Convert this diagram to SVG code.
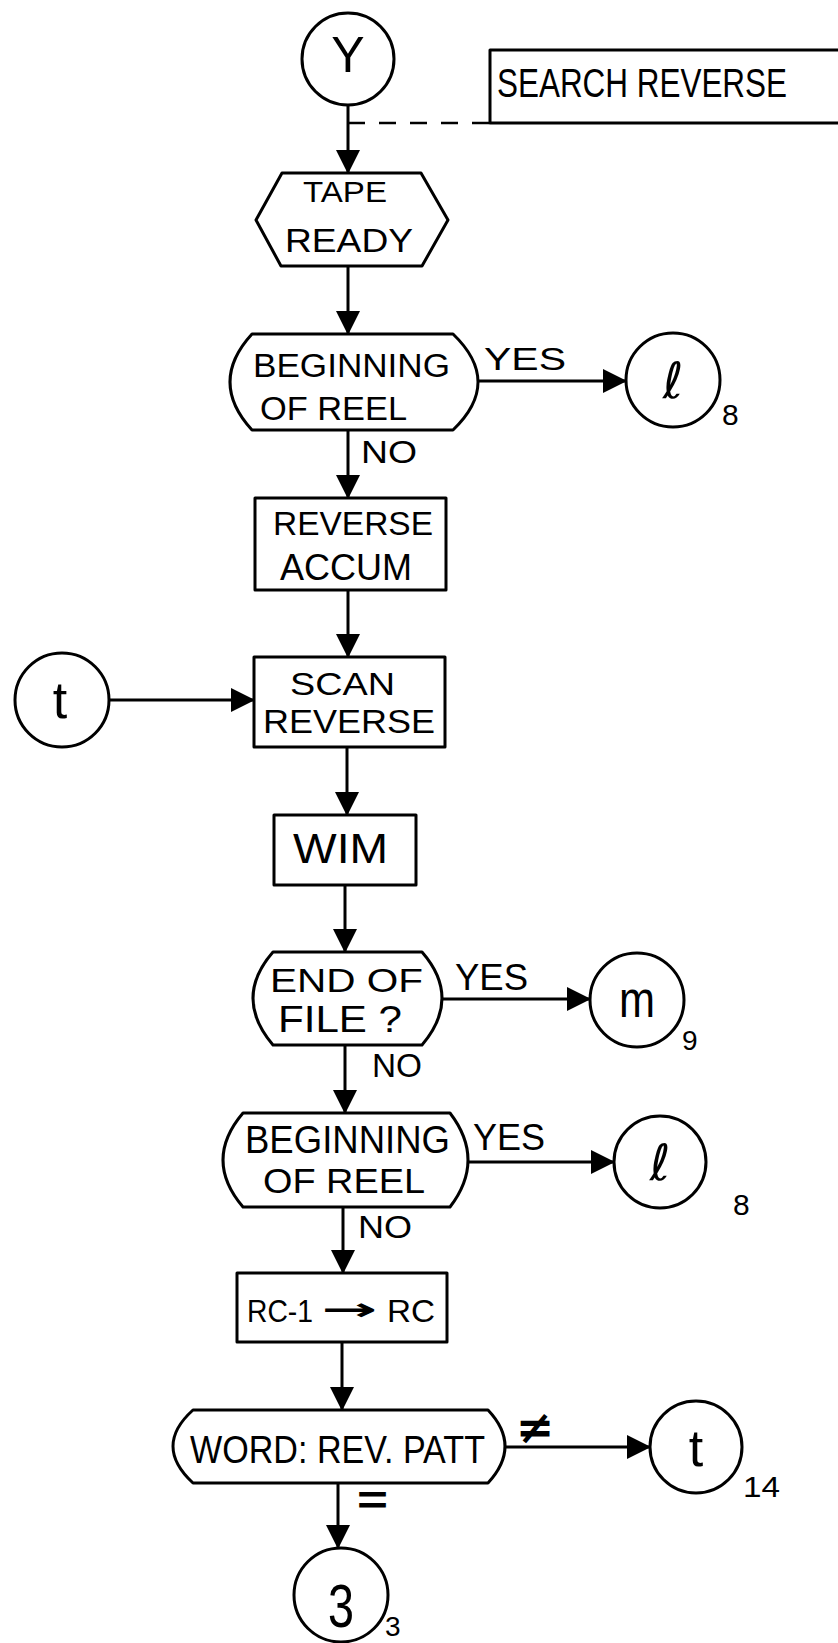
<svg xmlns="http://www.w3.org/2000/svg" width="838" height="1643" viewBox="0 0 838 1643">
<defs>
<style>
.s{fill:none;stroke:#000;stroke-width:3;stroke-linejoin:round}
.c{fill:none;stroke:#000;stroke-width:3}
.t{font-family:"Liberation Sans","DejaVu Sans",sans-serif;fill:#000}
.sym{font-family:"DejaVu Sans","Liberation Sans",sans-serif;fill:#000}
</style>
<marker id="ah" markerUnits="userSpaceOnUse" markerWidth="24" markerHeight="24" refX="23" refY="12" orient="auto">
<path d="M0,0 L24,12 L0,24 Z" fill="#000"/>
</marker>
</defs>
<rect width="838" height="1643" fill="#fff"/>

<g id="connectors">
<path class="c" d="M348,105 V173" marker-end="url(#ah)"/>
<path d="M348,123 H490" fill="none" stroke="#000" stroke-width="2.5" stroke-dasharray="17 14"/>
<path class="c" d="M348,266 V334" marker-end="url(#ah)"/>
<path class="c" d="M478,381 H626" marker-end="url(#ah)"/>
<path class="c" d="M348,430 V498" marker-end="url(#ah)"/>
<path class="c" d="M348,590 V657" marker-end="url(#ah)"/>
<path class="c" d="M108,700 H254" marker-end="url(#ah)"/>
<path class="c" d="M347,747 V815" marker-end="url(#ah)"/>
<path class="c" d="M345,885 V952" marker-end="url(#ah)"/>
<path class="c" d="M442,999 H590" marker-end="url(#ah)"/>
<path class="c" d="M345,1045 V1113" marker-end="url(#ah)"/>
<path class="c" d="M468,1162 H614" marker-end="url(#ah)"/>
<path class="c" d="M343,1207 V1273" marker-end="url(#ah)"/>
<path class="c" d="M342,1342 V1410" marker-end="url(#ah)"/>
<path class="c" d="M505,1447 H650" marker-end="url(#ah)"/>
<path class="c" d="M338,1483 V1548" marker-end="url(#ah)"/>
<text class="t" x="484" y="370" font-size="32" textLength="82" lengthAdjust="spacingAndGlyphs">YES</text>
<text class="t" x="361" y="463" font-size="32" textLength="56" lengthAdjust="spacingAndGlyphs">NO</text>
<text class="t" x="455" y="990" font-size="36" textLength="73" lengthAdjust="spacingAndGlyphs">YES</text>
<text class="t" x="372" y="1077" font-size="34" textLength="50" lengthAdjust="spacingAndGlyphs">NO</text>
<text class="t" x="473" y="1150" font-size="36" textLength="72" lengthAdjust="spacingAndGlyphs">YES</text>
<text class="t" x="358" y="1238" font-size="32" textLength="54" lengthAdjust="spacingAndGlyphs">NO</text>
<text class="sym" x="535" y="1443" font-size="46" text-anchor="middle" font-weight="bold">≠</text>
<text class="t" x="357" y="1514" font-size="40" textLength="31" lengthAdjust="spacingAndGlyphs" font-weight="bold">=</text>
</g>

<g id="start-y">
<circle class="s" cx="348" cy="59" r="46"/>
<text class="t" x="348" y="72" font-size="50" text-anchor="middle">Y</text>
</g>

<g id="title">
<path class="s" d="M838,50 H490 V123 H838"/>
<text class="t" x="497" y="97" font-size="40" textLength="290" lengthAdjust="spacingAndGlyphs">SEARCH REVERSE</text>
</g>

<g id="tape-ready">
<polygon class="s" points="282,173 421,173 448,220 422,266 281,266 256,220"/>
<text class="t" x="303" y="202" font-size="29" textLength="84" lengthAdjust="spacingAndGlyphs">TAPE</text>
<text class="t" x="285" y="252" font-size="33" textLength="128" lengthAdjust="spacingAndGlyphs">READY</text>
</g>

<g id="beginning-of-reel-1">
<path class="s" d="M252,334 L453,334 Q503,382 453,430 L252,430 Q208,382 252,334 Z"/>
<text class="t" x="253" y="377" font-size="34" textLength="197" lengthAdjust="spacingAndGlyphs">BEGINNING</text>
<text class="t" x="260" y="420" font-size="34" textLength="147" lengthAdjust="spacingAndGlyphs">OF REEL</text>
</g>

<g id="conn-l-1">
<circle class="s" cx="673" cy="380" r="47"/>
<text class="sym" x="673" y="398" font-size="50" text-anchor="middle">ℓ</text>
<text class="t" x="722" y="425" font-size="30">8</text>
</g>

<g id="reverse-accum">
<rect class="s" x="255" y="498" width="191" height="92"/>
<text class="t" x="273" y="535" font-size="34" textLength="160" lengthAdjust="spacingAndGlyphs">REVERSE</text>
<text class="t" x="280" y="580" font-size="36" textLength="132" lengthAdjust="spacingAndGlyphs">ACCUM</text>
</g>

<g id="conn-t-in">
<circle class="s" cx="62" cy="700" r="47"/>
<text class="t" x="60" y="718" font-size="52" text-anchor="middle">t</text>
</g>

<g id="scan-reverse">
<rect class="s" x="254" y="657" width="191" height="90"/>
<text class="t" x="290" y="695" font-size="31" textLength="105" lengthAdjust="spacingAndGlyphs">SCAN</text>
<text class="t" x="263" y="733" font-size="34" textLength="172" lengthAdjust="spacingAndGlyphs">REVERSE</text>
</g>

<g id="wim">
<rect class="s" x="274" y="815" width="142" height="70"/>
<text class="t" x="293" y="863" font-size="42" textLength="95" lengthAdjust="spacingAndGlyphs">WIM</text>
</g>

<g id="end-of-file">
<path class="s" d="M273,952 L422,952 Q462,998 422,1045 L273,1045 Q233,998 273,952 Z"/>
<text class="t" x="270" y="992" font-size="34" textLength="153" lengthAdjust="spacingAndGlyphs">END OF</text>
<text class="t" x="278" y="1032" font-size="36" textLength="124" lengthAdjust="spacingAndGlyphs">FILE ?</text>
</g>

<g id="conn-m">
<circle class="s" cx="637" cy="1000" r="47"/>
<text class="t" x="619" y="1017" font-size="52" textLength="36" lengthAdjust="spacingAndGlyphs">m</text>
<text class="t" x="682" y="1050" font-size="28">9</text>
</g>

<g id="beginning-of-reel-2">
<path class="s" d="M243,1113 L450,1113 Q486,1160 450,1207 L243,1207 Q203,1160 243,1113 Z"/>
<text class="t" x="245" y="1153" font-size="38" textLength="205" lengthAdjust="spacingAndGlyphs">BEGINNING</text>
<text class="t" x="263" y="1193" font-size="35" textLength="162" lengthAdjust="spacingAndGlyphs">OF REEL</text>
</g>

<g id="conn-l-2">
<circle class="s" cx="660" cy="1162" r="46"/>
<text class="sym" x="660" y="1180" font-size="50" text-anchor="middle">ℓ</text>
<text class="t" x="733" y="1215" font-size="30">8</text>
</g>

<g id="rc-decrement">
<rect class="s" x="237" y="1273" width="210" height="69"/>
<text class="t" x="247" y="1322" font-size="31" textLength="66" lengthAdjust="spacingAndGlyphs">RC-1</text>
<text class="sym" x="321" y="1320" font-size="31" textLength="56" lengthAdjust="spacingAndGlyphs" font-weight="bold">→</text>
<text class="t" x="387" y="1322" font-size="31" textLength="48" lengthAdjust="spacingAndGlyphs">RC</text>
</g>

<g id="word-rev-patt">
<path class="s" d="M193,1410 L488,1410 Q522,1446 488,1483 L193,1483 Q153,1446 193,1410 Z"/>
<text class="t" x="190" y="1463" font-size="38" textLength="295" lengthAdjust="spacingAndGlyphs">WORD: REV. PATT</text>
</g>

<g id="conn-t-out">
<circle class="s" cx="696" cy="1447" r="46"/>
<text class="t" x="696" y="1466" font-size="52" text-anchor="middle">t</text>
<text class="t" x="743" y="1497" font-size="30" textLength="37" lengthAdjust="spacingAndGlyphs">14</text>
</g>

<g id="conn-3">
<circle class="s" cx="341" cy="1595" r="47"/>
<text class="t" x="328" y="1627" font-size="62" textLength="26" lengthAdjust="spacingAndGlyphs">3</text>
<text class="t" x="385" y="1636" font-size="28">3</text>
</g>
</svg>
